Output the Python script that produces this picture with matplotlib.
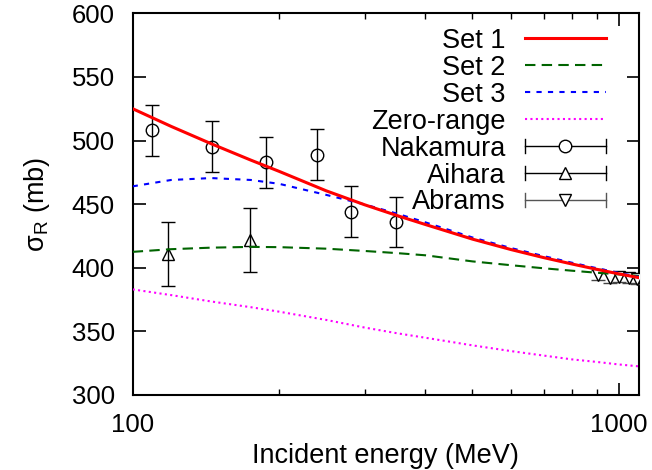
import matplotlib
matplotlib.use("Agg")
import matplotlib.pyplot as plt
from matplotlib.lines import Line2D
from matplotlib.legend_handler import HandlerBase

plt.rcParams['font.family'] = ['Liberation Sans', 'DejaVu Sans']
plt.rcParams['mathtext.default'] = 'regular'

# model curves
energy = [100, 120, 145, 175, 200, 250, 300, 350, 400, 500, 600, 700, 800, 900, 1000, 1100]
set1 = [525, 511.1, 497.5, 484.6, 475.8, 460.5, 449.5, 441, 434, 422.5, 414.3, 408, 403, 398.8, 395.2, 392.2]
set2 = [412.5, 414.6, 415.8, 416.4, 416.2, 415, 413.2, 411.5, 409.8, 405, 402, 399.6, 397.7, 396.1, 394.8, 393.5]
set3 = [464, 469, 470.5, 469, 466, 457.3, 449.8, 442.5, 435.7, 423.8, 415.5, 409.2, 404, 399.7, 396, 392.8]
zero_range = [383, 378.5, 373.5, 369, 365.5, 359, 353, 348.5, 345, 339, 334.5, 331, 328, 326, 324, 322.5]

# experimental data
nakamura_e = [109.4, 145.8, 188.3, 239.7, 281.5, 348.7]
nakamura_s = [508, 495, 483, 489, 444, 436]
nakamura_err = [20, 20, 20, 20, 20, 20]

aihara_e = [118.4, 174.2]
aihara_s = [411, 422]
aihara_err = [25, 25]

abrams_e = [908, 957, 1000, 1047, 1090]
abrams_s = [394, 392, 393, 392, 391]
abrams_err = [4, 4, 4, 4, 4]


class HorizErrorHandler(HandlerBase):
    # gnuplot style key entry:  |----o----|
    def create_artists(self, legend, orig_handle, xdescent, ydescent,
                       width, height, fontsize, trans):
        c = orig_handle.get_color()
        y = height / 2.0 - ydescent
        x0 = -xdescent
        x1 = width - xdescent
        cap = 0.25 * fontsize
        bar = Line2D([x0, x1], [y, y], color=c, lw=1.0)
        capl = Line2D([x0, x0], [y - cap, y + cap], color=c, lw=1.0)
        capr = Line2D([x1, x1], [y - cap, y + cap], color=c, lw=1.0)
        mk = Line2D([(x0 + x1) / 2.0], [y], marker=orig_handle.get_marker(),
                    ms=orig_handle.get_markersize(), mfc='white', mec='black', mew=1.0, ls='none')
        arts = [bar, capl, capr, mk]
        for a in arts:
            a.set_transform(trans)
        return arts


fig = plt.figure(figsize=(6.52, 4.70), dpi=100)
ax = fig.add_subplot(111)
fig.subplots_adjust(left=0.2035, right=0.980, top=0.9717, bottom=0.1596)

l1, = ax.plot(energy, set1, color='#ff0000', lw=2.2, zorder=5)
l2, = ax.plot(energy, set2, color='#006400', lw=1.5, dashes=(5, 3), zorder=4)
l3, = ax.plot(energy, set3, color='#0000ff', lw=1.5, dashes=(2.5, 3), zorder=4)
l4, = ax.plot(energy, zero_range, color='#ff00ff', lw=1.5, dashes=(1, 1.6), zorder=4)

ax.errorbar(nakamura_e, nakamura_s, yerr=nakamura_err, fmt='o', ms=9, mfc='none',
            mec='black', color='black', elinewidth=1.0, capsize=5, capthick=1.0, zorder=3)
ax.errorbar(aihara_e, aihara_s, yerr=aihara_err, fmt='^', ms=9, mfc='none',
            mec='black', color='black', elinewidth=1.0, capsize=5, capthick=1.0, zorder=3)
ax.errorbar(abrams_e, abrams_s, yerr=abrams_err, fmt='v', ms=9, mfc='white',
            mec='black', ecolor='#444444', elinewidth=1.0, capsize=5, capthick=1.0, zorder=3)

ax.set_xscale('log')
ax.set_xlim(100, 1100)
ax.set_ylim(300, 600)
ax.set_yticks([300, 350, 400, 450, 500, 550, 600])
ax.set_xticks([100, 1000])
ax.set_xticklabels(['100', '1000'])
ax.tick_params(which='both', direction='in', top=True, right=True, labelsize=18.5)
ax.tick_params(which='major', length=9, width=1.2)
ax.tick_params(axis='x', which='major', pad=13)
ax.tick_params(axis='y', which='major', pad=13)
ax.tick_params(which='minor', length=4.5, width=1.0)
ax.tick_params(axis='y', which='minor', left=False, right=False)
for s in ax.spines.values():
    s.set_linewidth(1.5)

ax.set_xlabel('Incident energy (MeV)', fontsize=19.5, labelpad=4)
ax.set_ylabel(r'$\mathregular{\sigma_R}$ (mb)', fontsize=19.5, labelpad=14)

p_nak = Line2D([], [], color='black', marker='o', markersize=9)
p_aih = Line2D([], [], color='black', marker='^', markersize=9)
p_abr = Line2D([], [], color='#555555', marker='v', markersize=9)
hmap = {p_nak: HorizErrorHandler(), p_aih: HorizErrorHandler(), p_abr: HorizErrorHandler()}

ax.legend([l1, l2, l3, l4, p_nak, p_aih, p_abr],
          ['Set 1', 'Set 2', 'Set 3', 'Zero-range', 'Nakamura', 'Aihara', 'Abrams'],
          handler_map=hmap, loc='upper right', bbox_to_anchor=(0.935, 0.962),
          frameon=False, markerfirst=False, fontsize=19.5, handlelength=3.0,
          handletextpad=0.7, labelspacing=0.035, borderpad=0, borderaxespad=0)

plt.savefig('out.png', dpi=100)
